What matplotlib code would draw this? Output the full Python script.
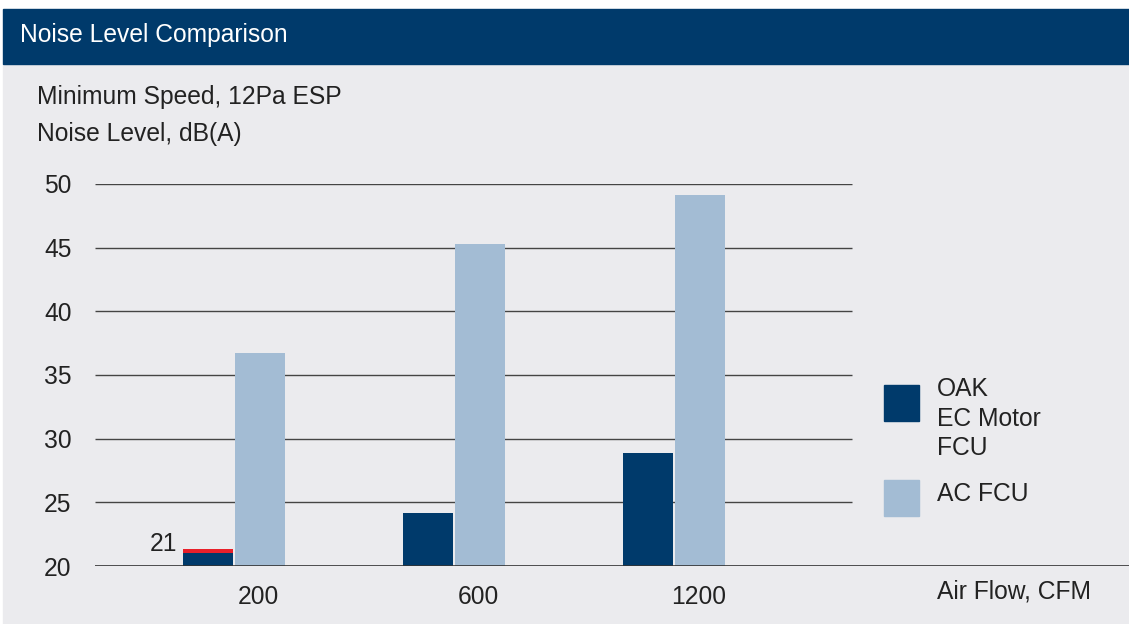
import matplotlib.pyplot as plt
from matplotlib.patches import Rectangle
import numpy as np

plt.rcParams['font.family'] = ['Liberation Sans', 'DejaVu Sans']

# Data
airflow = ["200", "600", "1200"]
oak_ec = [21.0, 24.2, 28.9]
ac_fcu = [36.7, 45.3, 49.1]
yticks = [20, 25, 30, 35, 40, 45, 50]

dark = "#003a6b"
light = "#a3bcd4"
red = "#e8202a"
bg = "#ebebee"
txt = "#222222"
fs = 17.7

W, H = 1129, 624
fig = plt.figure(figsize=(W / 100, H / 100), dpi=100)
fig.patch.set_facecolor("white")

# panel background and header bar
fig.patches.append(Rectangle((3 / W, 0), 1 - 3 / W, 1 - 64 / H,
                             transform=fig.transFigure, color=bg, zorder=-10))
fig.patches.append(Rectangle((3 / W, 1 - 64 / H), 1 - 3 / W, 55 / H,
                             transform=fig.transFigure, color=dark, zorder=-10))
fig.text(20 / W, 1 - 35 / H, "Noise Level Comparison", color="white",
         fontsize=fs, va="center", ha="left")
fig.text(37 / W, 1 - 97 / H, "Minimum Speed, 12Pa ESP", color=txt,
         fontsize=fs, va="center", ha="left")
fig.text(37 / W, 1 - 134 / H, "Noise Level, dB(A)", color=txt,
         fontsize=fs, va="center", ha="left")

# axes
ax = fig.add_axes([95 / W, (H - 566) / H, (W - 95) / W, 382 / H])
ax.set_facecolor("none")
ax.set_xlim(-0.632, 4.068)
ax.set_ylim(20, 50)

x = np.arange(len(airflow))
bw = 50 / 220
off = 26 / 220

for y in yticks[1:]:
    ax.hlines(y, -0.632, 2.81, color="#444444", linewidth=1, zorder=1)
ax.axhline(20, color="#333333", linewidth=1.2, zorder=3)

ax.bar(x - off, np.array(oak_ec) - 20, bottom=20, width=bw, color=dark, zorder=2)
ax.bar(x + off, np.array(ac_fcu) - 20, bottom=20, width=bw, color=light, zorder=2)
# red highlight on the first OAK bar
ax.bar(x[0] - off, 0.35, bottom=oak_ec[0], width=bw, color=red, zorder=2)
ax.text(x[0] - off - 0.14, oak_ec[0] - 0.2, "21", ha="right", va="bottom",
        fontsize=fs, color=txt)

ax.set_yticks(yticks)
ax.set_yticklabels([str(v) for v in yticks])
ax.set_xticks(x + 0.11)
ax.set_xticklabels(airflow)
ax.tick_params(axis="both", length=0, labelsize=fs, labelcolor=txt)
ax.tick_params(axis="y", pad=17)
ax.tick_params(axis="x", pad=14)
for s in ax.spines.values():
    s.set_visible(False)

fig.text(937 / W, 1 - 591 / H, "Air Flow, CFM", color=txt, fontsize=fs,
         va="center", ha="left")

# legend
fig.patches.append(Rectangle((884 / W, 1 - 421 / H), 35 / W, 36 / H,
                             transform=fig.transFigure, color=dark))
fig.patches.append(Rectangle((884 / W, 1 - 516 / H), 35 / W, 36 / H,
                             transform=fig.transFigure, color=light))
for i, line in enumerate(["OAK", "EC Motor", "FCU"]):
    fig.text(937 / W, 1 - (389 + 29.5 * i) / H, line, color=txt,
             fontsize=fs, va="center", ha="left")
fig.text(937 / W, 1 - 494 / H, "AC FCU", color=txt, fontsize=fs,
         va="center", ha="left")

fig.savefig("out.png", dpi=100, facecolor=fig.get_facecolor())
